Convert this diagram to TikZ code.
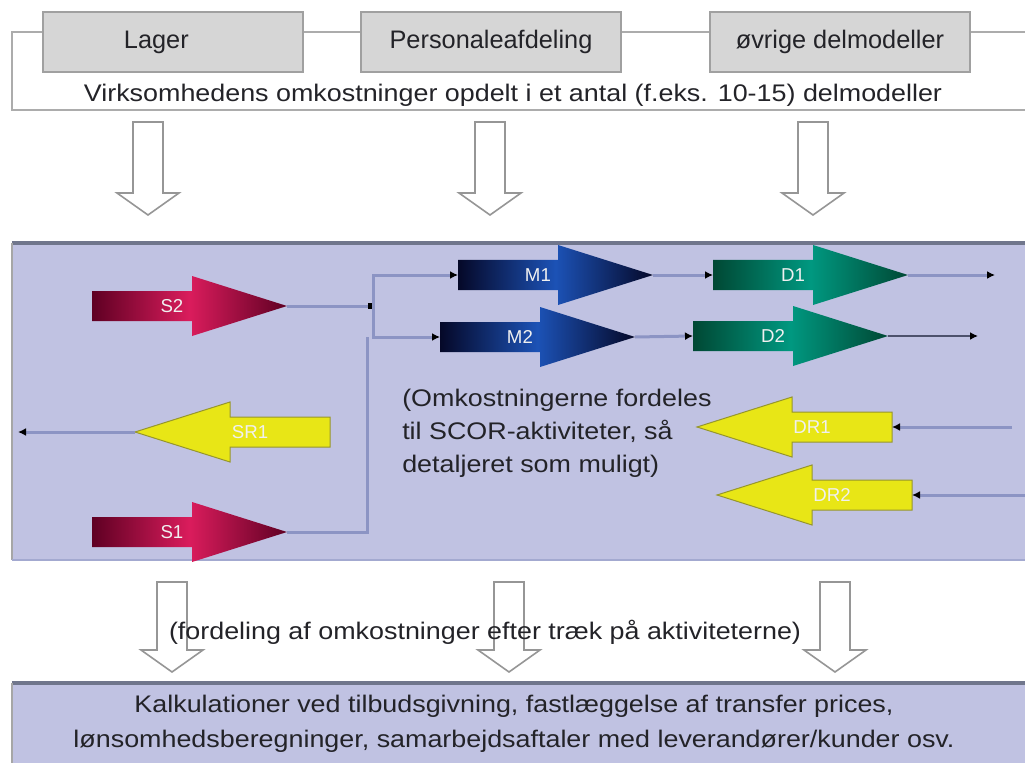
\documentclass[tikz,border=0pt]{standalone}
\usepackage{fontspec}
\setmainfont{Liberation Sans}
\newfontfamily\widefont[FakeStretch=1.12]{Liberation Sans}
\usetikzlibrary{arrows.meta}
\usetikzlibrary{calc}

\definecolor{panelfill}{RGB}{192,194,226}
\definecolor{panelline}{RGB}{112,118,140}
\definecolor{connline}{RGB}{140,148,196}
\definecolor{boxfill}{RGB}{214,214,214}
\definecolor{boxline}{RGB}{160,160,160}
\definecolor{frameline}{RGB}{172,172,172}
\definecolor{hollowline}{RGB}{150,150,150}
\definecolor{sdark}{RGB}{95,0,35}
\definecolor{sbright}{RGB}{218,28,92}
\definecolor{mdark}{RGB}{5,8,40}
\definecolor{mbright}{RGB}{28,82,182}
\definecolor{ddark}{RGB}{0,72,52}
\definecolor{dbright}{RGB}{0,152,128}
\definecolor{ryellow}{RGB}{232,230,22}
\definecolor{rolive}{RGB}{150,150,45}
\definecolor{textgray}{RGB}{35,35,40}

\tikzset{
  topbox/.style={draw=boxline, line width=1.5pt, fill=boxfill, minimum width=195pt, minimum height=45pt, inner sep=0pt, font=\fontsize{19}{22}\selectfont, text=textgray},
  source/.style={left color=sdark, right color=sdark, middle color=sbright},
  make/.style={left color=mdark, right color=mdark, middle color=mbright},
  deliver/.style={left color=ddark, right color=ddark, middle color=dbright},
  retrn/.style={fill=ryellow, draw=rolive, line width=0.75pt},
  flowlabel/.style={font=\fontsize{14}{16}\selectfont, text=white!88!gray, inner sep=0pt},
  conn/.style={draw=connline, line width=2.25pt},
  tipend/.style={-{Latex[black,length=6pt,width=6pt]}},
  hollow/.style={draw=hollowline, fill=white, line width=1.2pt},
  widetext/.style={font=\widefont\fontsize{18}{24.75}\selectfont, text=textgray, inner sep=0pt},
}

% SCOR arrow: name, tail x, y, direction, style, label
\newcommand{\flowarrow}[6]{%
  \begin{scope}[shift={(#2,#3)}, xscale=#4]
    \path[#5] (0,-15) -- (100,-15) -- (100,-30) -- (195,0) -- (100,30) -- (100,15) -- (0,15) -- cycle;
    \coordinate (#1-tail) at (0,0);
    \coordinate (#1-tip) at (195,0);
  \end{scope}
  \node[flowlabel] (#1) at ($(#1-tail)!0.41!(#1-tip)$) {#6};}

% hollow down arrow: x, top y, tip y
\newcommand{\hollowdown}[3]{%
  \draw[hollow] (#1-15,#2) -- (#1+15,#2) -- (#1+15,#3-22) -- (#1+31,#3-22) -- (#1,#3) -- (#1-31,#3-22) -- (#1-15,#3-22) -- cycle;}

\begin{document}
\begin{tikzpicture}[x=0.75pt,y=0.75pt,yscale=-1,xscale=1]
\useasboundingbox (0,0) rectangle (1025,763);

%Shape: frame of the sub models
\draw[frameline, line width=1.5pt] (12,32) rectangle (1040,110);
% Text Node
\node[topbox] (lager) at (173,42) {Lager\hspace*{25pt}};
\node[topbox] (personale) at (491,42) {Personaleafdeling};
\node[topbox] (oevrige) at (840,42) {øvrige delmodeller};
\node[widetext] (frametext) at (513,95) {Virksomhedens omkostninger opdelt i et antal (f.eks. 10-15) delmodeller};

%Shape: hollow arrows down
\hollowdown{148}{122}{215}
\hollowdown{490}{122}{215}
\hollowdown{813}{122}{215}

%Shape: SCOR panel
\fill[panelfill] (12,243) rectangle (1040,560);
\draw[panelline, line width=2.5pt] (12,243) -- (1040,243);
\draw[gray!70, line width=1.5pt] (12,243) -- (12,560);
\draw[connline!80, line width=1.5pt] (12,560) -- (1040,560);

%Shape: SCOR arrows
\flowarrow{s2}{92}{306}{1}{source}{S2}
\flowarrow{s1}{92}{532}{1}{source}{S1}
\flowarrow{m1}{458}{275}{1}{make}{M1}
\flowarrow{m2}{440}{337}{1}{make}{M2}
\flowarrow{d1}{713}{275}{1}{deliver}{D1}
\flowarrow{d2}{693}{336}{1}{deliver}{D2}
\flowarrow{sr1}{330}{432}{-1}{retrn}{SR1}
\flowarrow{dr1}{892}{427}{-1}{retrn}{DR1}
\flowarrow{dr2}{912}{495}{-1}{retrn}{DR2}

% Connection
\coordinate (split) at (373,306);
\coordinate (join) at (367,337);
\coordinate (d1out) at (995,275);
\coordinate (d2out) at (978,336);
\coordinate (sr1out) at (18,432);
\coordinate (dr1in) at (1012,427);
\coordinate (dr2in) at (1030,495);
\draw[conn, -{Square[black,length=4pt,width=5pt]}] (s2-tip) -- (split);
\draw[conn, tipend] (split) |- (m1-tail);
\draw[conn, tipend] (split) |- (m2-tail);
\draw[conn] (s1-tip) -| (join);
\draw[conn, tipend] (m1-tip) -- (d1-tail);
\draw[conn, tipend] (m2-tip) -- (d2-tail);
\draw[conn, tipend] (d1-tip) -- (d1out);
\draw[conn, draw=connline!55!black, line width=1.5pt, tipend] (d2-tip) -- (d2out);
\draw[conn, tipend] (sr1-tip) -- (sr1out);
\draw[conn, tipend] (dr1in) -- (dr1-tail);
\draw[conn, tipend] (dr2in) -- (dr2-tail);

% Text Node
\node[widetext, anchor=west, align=left] (note) at (402,433) {(Omkostningerne fordeles\\til SCOR-aktiviteter, så\\detaljeret som muligt)};

%Shape: hollow arrows down to the calculations
\hollowdown{172}{582}{672}
\hollowdown{509}{582}{672}
\hollowdown{835}{582}{672}
\node[widetext] (alloc) at (485,632) {(fordeling af omkostninger efter træk på aktiviteterne)};

%Shape: calculation panel
\fill[panelfill] (12,683) rectangle (1040,770);
\draw[panelline, line width=3pt] (12,683) -- (1040,683);
\draw[gray!70, line width=1.5pt] (12,683) -- (12,770);
\node[widetext, font=\widefont\fontsize{18}{26.25}\selectfont, align=center] (calc) at (514,724) {Kalkulationer ved tilbudsgivning, fastlæggelse af transfer prices,\\lønsomhedsberegninger, samarbejdsaftaler med leverandører/kunder osv.};

\end{tikzpicture}
\end{document}
